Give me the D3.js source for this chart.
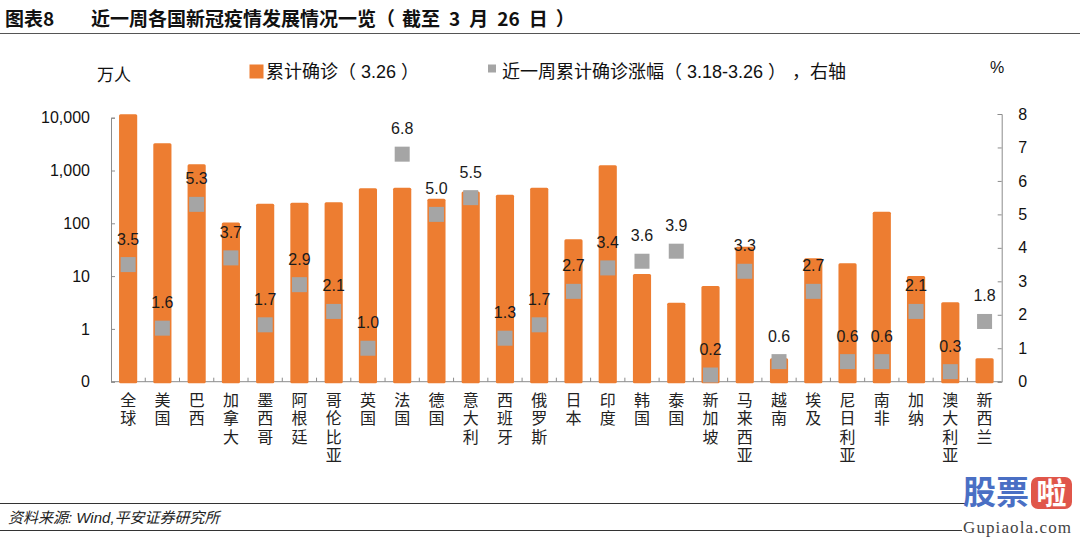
<!DOCTYPE html>
<html><head><meta charset="utf-8">
<script src="https://cdn.jsdelivr.net/npm/d3@7"></script>
<style>
body{margin:0;background:#fff;}
svg{display:block;font-family:"Liberation Sans","Noto Sans CJK SC",sans-serif;}
.pre{white-space:pre;}
</style>
</head><body>
<svg id="c" width="1080" height="537"></svg>
<script>
// ---- data ----
const categories = ["全球","美国","巴西","加拿大","墨西哥","阿根廷","哥伦比亚","英国","法国","德国","意大利","西班牙","俄罗斯","日本","印度","韩国","泰国","新加坡","马来西亚","越南","埃及","尼日利亚","南非","加纳","澳大利亚","新西兰"];
const confirmed = [11600,3270,1310,103,235,245,250,460,472,292,400,348,472,50,1253,11.0,3.13,6.5,36,0.277,21.7,17.5,166,10.0,3.19,0.277];
const growth = [3.5,1.6,5.3,3.7,1.7,2.9,2.1,1.0,6.8,5.0,5.5,1.3,1.7,2.7,3.4,3.6,3.9,0.2,3.3,0.6,2.7,0.6,0.6,2.1,0.3,1.8];
const leftTicks = [0.1,1,10,100,1000,10000];
const leftTickLabels = ["0","1","10","100","1,000","10,000"];
const rightTicks = [0,1,2,3,4,5,6,7,8];
const legendLabels = ["累计确诊（ 3.26 ）","近一周累计确诊涨幅（ 3.18-3.26 ），右轴"];

// ---- layout ----
const svg = d3.select("#c");
const X0 = 111, X1 = 1001.7, Y0 = 381.7;
const orange = "#ED7D31", grey = "#A5A5A5", axisCol = "#8c8c8c";
const cjk = "'Noto Sans CJK SC','Liberation Sans',sans-serif";

const x = d3.scaleBand().domain(categories).range([X0, X1]).paddingInner(0.47).paddingOuter(0.235);
const yL = d3.scaleLog().domain([0.1, 10000]).range([Y0, 117.7]);
const yR = d3.scaleLinear().domain([0, 8]).range([Y0, 114]);

// title
svg.append("text").attr("x",5).attr("y",26).attr("font-size",19).attr("font-weight","bold").attr("fill","#111")
  .attr("font-family",cjk).text("图表8");
const title = svg.append("text").attr("x",91).attr("y",26).attr("font-size",19).attr("font-weight","bold").attr("fill","#111")
  .attr("font-family",cjk);
title.append("tspan").text("近一周各国新冠疫情发展情况一览（");
title.append("tspan").attr("dx",7).text("截至");
title.append("tspan").attr("dx",9).text("3");
title.append("tspan").attr("dx",9).text("月");
title.append("tspan").attr("dx",9).text("26");
title.append("tspan").attr("dx",9).text("日");
title.append("tspan").attr("dx",8).text("）");
svg.append("line").attr("x1",0).attr("x2",1080).attr("y1",33.5).attr("y2",33.5).attr("stroke","#555").attr("stroke-width",1.2);

// unit labels
svg.append("text").attr("x",97).attr("y",81).attr("font-size",17).attr("fill","#111").text("万人");
svg.append("text").attr("x",990).attr("y",73).attr("font-size",16).attr("fill","#111").text("%");

// legend
svg.append("rect").attr("x",249.5).attr("y",64.5).attr("width",14).attr("height",14).attr("fill",orange);
svg.append("text").attr("class","pre").attr("x",266).attr("y",78).attr("font-size",18).attr("fill","#111").text(legendLabels[0]);
svg.append("rect").attr("x",488).attr("y",64.5).attr("width",8).attr("height",8).attr("fill",grey);
const lg2 = legendLabels[1].split("，");
const l2 = svg.append("text").attr("class","pre").attr("x",502).attr("y",78).attr("font-size",18).attr("fill","#111");
l2.append("tspan").text(lg2[0]);
l2.append("tspan").attr("dx",15).text("，" + lg2[1]);

// left axis
const gL = svg.append("g").attr("transform",`translate(${X0},0)`)
  .call(d3.axisRight(yL).tickValues(leftTicks).tickSize(4).tickFormat((d,i)=>leftTickLabels[i]));
gL.select(".domain").attr("stroke",axisCol);
gL.selectAll(".tick line").attr("stroke",axisCol);
gL.selectAll(".tick text").attr("x",-21).attr("text-anchor","end").attr("font-size",16).attr("fill","#111");

// right axis
const gR = svg.append("g").attr("transform",`translate(${X1},0)`)
  .call(d3.axisLeft(yR).tickValues(rightTicks).tickSize(4).tickFormat(d3.format("d")));
gR.select(".domain").attr("stroke",axisCol);
gR.selectAll(".tick line").attr("stroke",axisCol);
gR.selectAll(".tick text").attr("x",16.5).attr("text-anchor","start").attr("font-size",16).attr("fill","#111");

// bottom axis
svg.append("line").attr("x1",X0).attr("x2",X1).attr("y1",Y0).attr("y2",Y0).attr("stroke",axisCol);
svg.append("g").selectAll("line").data(d3.range(1,categories.length)).join("line")
  .attr("x1",i=>X0 + i*x.step()).attr("x2",i=>X0 + i*x.step())
  .attr("y1",Y0).attr("y2",Y0-4).attr("stroke",axisCol);

// bars
svg.append("g").selectAll("rect").data(categories).join("rect")
  .attr("x",d=>x(d)).attr("width",x.bandwidth())
  .attr("y",(d,i)=>yL(confirmed[i])).attr("height",(d,i)=>Y0+1.5-yL(confirmed[i]))
  .attr("rx",1.5).attr("fill",orange);

// markers
const ms = 15;
svg.append("g").selectAll("rect").data(categories).join("rect")
  .attr("x",d=>x(d)+x.bandwidth()/2-ms/2).attr("width",ms)
  .attr("y",(d,i)=>yR(growth[i])-ms/2).attr("height",ms)
  .attr("fill",grey);

// data labels
svg.append("g").selectAll("text").data(categories).join("text")
  .attr("x",d=>x(d)+x.bandwidth()/2).attr("y",(d,i)=>yR(growth[i])-20)
  .attr("text-anchor","middle").attr("font-size",16).attr("fill","#1a1a1a")
  .text((d,i)=>growth[i].toFixed(1));

// category labels (vertical text)
svg.append("g").selectAll("text").data(categories).join("text")
  .attr("x",d=>x(d)+x.bandwidth()/2).attr("y",392)
  .attr("writing-mode","vertical-rl")
  .style("writing-mode","vertical-rl")
  .attr("letter-spacing",2.3)
  .attr("font-size",16).attr("fill","#222")
  .attr("font-family",cjk).text(d=>d);

// footer
svg.append("line").attr("x1",0).attr("x2",965).attr("y1",503.5).attr("y2",503.5).attr("stroke","#333").attr("stroke-width",1);
svg.append("line").attr("x1",0).attr("x2",962).attr("y1",530.5).attr("y2",530.5).attr("stroke","#333").attr("stroke-width",1);
svg.append("text").attr("x",8).attr("y",523).attr("font-size",15).attr("font-style","italic").attr("fill","#222")
  .text("资料来源: Wind,平安证券研究所");

// watermark
svg.append("text").attr("x",963).attr("y",504).attr("font-size",33).attr("font-weight","bold").attr("fill","#4a6fc4")
  .attr("font-family",cjk).text("股票");
svg.append("rect").attr("x",1031).attr("y",477).attr("width",41).attr("height",32).attr("rx",7).attr("fill","#e0564a");
svg.append("text").attr("x",1051.5).attr("y",504).attr("text-anchor","middle").attr("font-size",30).attr("font-weight","bold").attr("fill","#fff")
  .attr("font-family",cjk).text("啦");
svg.append("text").attr("x",963).attr("y",533).attr("font-size",17).attr("fill","#444")
  .attr("font-family","'Liberation Serif',serif").attr("textLength",108).text("Gupiaola.com");
</script>
</body></html>
